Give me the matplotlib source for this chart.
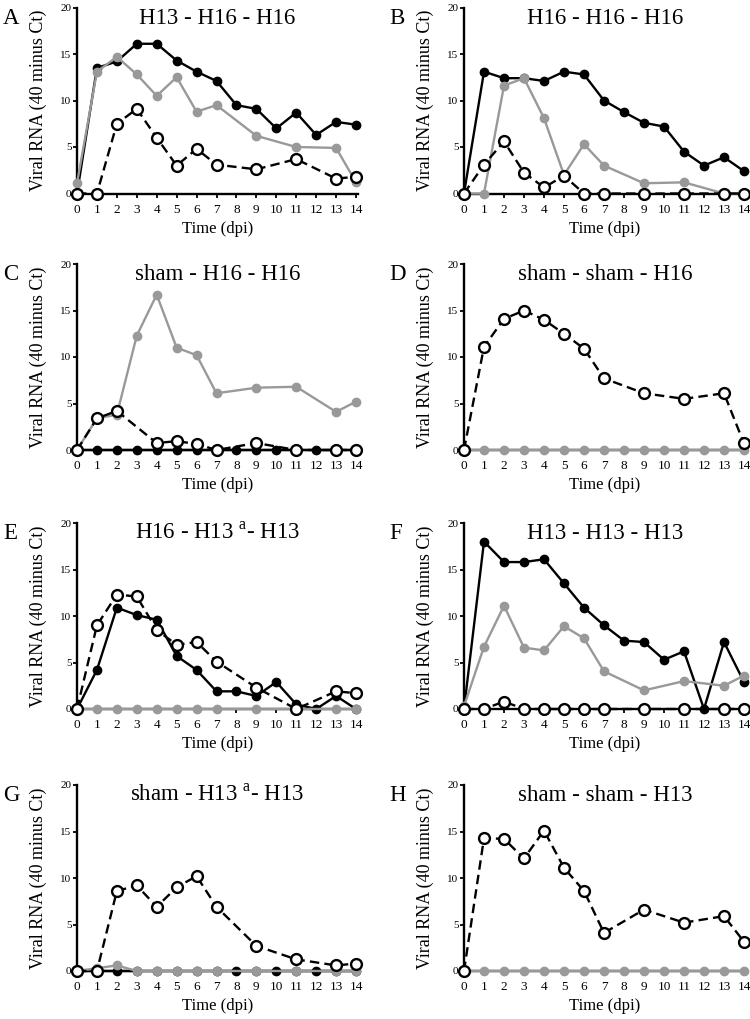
import matplotlib
matplotlib.use("Agg")
import matplotlib.pyplot as plt

plt.rcParams['font.family'] = ['Liberation Serif', 'DejaVu Serif']
plt.rcParams['mathtext.fontset'] = 'custom'
plt.rcParams['mathtext.rm'] = 'Liberation Serif'

# sampling days
days_all = [0, 1, 2, 3, 4, 5, 6, 7, 8, 9, 10, 11, 12, 13, 14]
days_main = [0, 1, 2, 3, 4, 5, 6, 7, 9, 11, 13, 14]
days_c_open = [0, 1, 2, 4, 5, 6, 7, 9, 11, 13, 14]

# A: H13 - H16 - H16
a_black = [0, 13.5, 14.2, 16.1, 16.1, 14.3, 13.1, 12.1, 9.5, 9.1, 7.0, 8.7, 6.3, 7.7, 7.4]
a_gray = [1.1, 13.1, 14.7, 12.8, 10.5, 12.5, 8.8, 9.5, 6.2, 5.0, 4.9, 1.2]
a_open = [0, 0, 7.5, 9.1, 6.0, 3.0, 4.8, 3.1, 2.6, 3.7, 1.6, 1.8]

# B: H16 - H16 - H16
b_black = [0, 13.1, 12.4, 12.4, 12.1, 13.1, 12.8, 10.0, 8.75, 7.6, 7.2, 4.5, 3.0, 3.9, 2.4]
b_gray = [0, 0, 11.6, 12.4, 8.1, 2.0, 5.3, 3.0, 1.1, 1.2, 0, 0]
b_open = [0, 3.1, 5.6, 2.25, 0.65, 1.9, 0, 0, 0, 0, 0, 0]

# C: sham - H16 - H16
c_black = [0] * 15
c_gray = [0, 3.4, 3.8, 12.3, 16.7, 11.0, 10.2, 6.1, 6.7, 6.8, 4.1, 5.2]
c_open = [0, 3.4, 4.2, 0.75, 0.95, 0.65, 0, 0.75, 0, 0, 0]

# D: sham - sham - H16
d_gray = [0] * 15
d_open = [0, 11.1, 14.1, 15.0, 14.0, 12.5, 10.9, 7.7, 6.1, 5.5, 6.1, 0.7]

# E: H16 - H13 - H13
e_black = [0, 4.2, 10.9, 10.1, 9.6, 5.7, 4.2, 1.9, 1.9, 1.4, 2.9, 0.5, 0, 1.4, 0]
e_gray = [0] * 12
e_open = [0, 9.0, 12.3, 12.1, 8.5, 6.9, 7.2, 5.1, 2.3, 0, 1.9, 1.7]

# F: H13 - H13 - H13
f_black = [0, 18.0, 15.8, 15.8, 16.1, 13.5, 10.9, 9.0, 7.35, 7.2, 5.3, 6.2, 0, 7.2, 2.9]
f_gray = [0.3, 6.7, 11.1, 6.6, 6.3, 8.9, 7.6, 4.05, 2.0, 3.0, 2.5, 3.6]
f_open = [0, 0, 0.8, 0, 0, 0, 0, 0, 0, 0, 0, 0]

# G: sham - H13 - H13
g_black = [0] * 15
g_gray = [0, 0.3, 0.6, 0, 0, 0, 0, 0, 0, 0, 0, 0]
g_open = [0, 0, 8.6, 9.2, 6.9, 9.0, 10.2, 6.9, 2.7, 1.25, 0.6, 0.8]

# H: sham - sham - H13
h_gray = [0] * 15
h_open = [0, 14.3, 14.2, 12.1, 15.1, 11.1, 8.6, 4.1, 6.6, 5.2, 5.9, 3.15]

panels = [
    ("A", "H13 - H16 - H16", (days_all, a_black), (days_main, a_gray), (days_main, a_open)),
    ("B", "H16 - H16 - H16", (days_all, b_black), (days_main, b_gray), (days_main, b_open)),
    ("C", "sham - H16 - H16", (days_all, c_black), (days_main, c_gray), (days_c_open, c_open)),
    ("D", "sham - sham - H16", None, (days_all, d_gray), (days_main, d_open)),
    ("E", r"H16 - H13 $^{\mathrm{a}}$- H13", (days_all, e_black), (days_main, e_gray), (days_main, e_open)),
    ("F", "H13 - H13 - H13", (days_all, f_black), (days_main, f_gray), (days_main, f_open)),
    ("G", r"sham - H13 $^{\mathrm{a}}$- H13", (days_all, g_black), (days_main, g_gray), (days_main, g_open)),
    ("H", "sham - sham - H13", None, (days_all, h_gray), (days_main, h_open)),
]

W, H = 750, 1019
fig = plt.figure(figsize=(W / 100, H / 100), dpi=100)

col_left = [77, 464]
col_width = [281, 282]
row_top = [7.5, 264, 523, 785]
row_height = 186
gray = "#999999"

for i, (letter, title, black, grey, opn) in enumerate(panels):
    r, c = divmod(i, 2)
    x0, w = col_left[c], col_width[c]
    y0 = row_top[r]
    ax = fig.add_axes([x0 / W, 1 - (y0 + row_height) / H, w / W, row_height / H])

    if black is not None:
        ax.plot(black[0], black[1], color="black", lw=1.7, marker="o", ms=6,
                clip_on=False, zorder=3)
    ax.plot(grey[0], grey[1], color=gray, lw=1.7, marker="o", ms=6,
            clip_on=False, zorder=4)
    ax.plot(opn[0], opn[1], color="black", lw=1.7, ls=(0, (4, 2.2)), marker="o",
            ms=7.8, mfc="white", mec="black", mew=1.7, clip_on=False, zorder=5)

    ax.set_xlim(0, 14.1)
    ax.set_ylim(0, 20)
    ax.set_xticks(days_all)
    ax.set_yticks([0, 5, 10, 15, 20])
    for s in ["top", "right"]:
        ax.spines[s].set_visible(False)
    for s in ["left", "bottom"]:
        ax.spines[s].set_linewidth(1.7)
    ax.tick_params(axis="x", direction="out", length=3, width=1.3, labelsize=9.5, pad=4.5)
    ax.tick_params(axis="y", direction="out", length=3, width=1.3, labelsize=8, pad=1)
    ax.set_xlabel("Time (dpi)", fontsize=12, labelpad=3.5)
    ax.set_ylabel("Viral RNA (40 minus Ct)", fontsize=13)
    ax.yaxis.set_label_coords(-0.105, 0.5)

    base = 1 - 16 / row_height
    ax.text(0.5, base, title, transform=ax.transAxes, ha="center", va="baseline",
            fontsize=16.5)
    ax.text(-(x0 - (3 if c == 0 else 389)) / w, base, letter, transform=ax.transAxes,
            ha="left", va="baseline", fontsize=16.5)

fig.savefig("out.png", dpi=100)
